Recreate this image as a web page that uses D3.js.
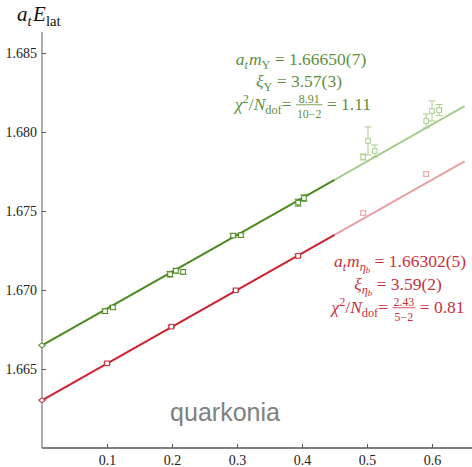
<!DOCTYPE html>
<html><head><meta charset="utf-8">
<script src="https://cdn.jsdelivr.net/npm/d3@7"></script>
<style>body{margin:0;background:#fff}svg{display:block}</style>
</head><body>
<svg id="c" width="472" height="467"></svg>
<script>
// ---- data ----
const xTicks = [0.1, 0.2, 0.3, 0.4, 0.5, 0.6];
const yTicks = [1.665, 1.670, 1.675, 1.680, 1.685];
const greenX = [0, 0.097, 0.109, 0.197, 0.206, 0.217, 0.294, 0.306, 0.394, 0.403, 0.494, 0.5015, 0.512, 0.591, 0.600, 0.611];
const greenY = [1.66650, 1.66866, 1.66890, 1.67100, 1.67122, 1.67115, 1.67345, 1.67347, 1.67553, 1.67582, 1.67842, 1.67943, 1.67880, 1.68070, 1.68133, 1.68139];
const greenErr = [0.00003, 0.00015, 0.00012, 0.00018, 0.00015, 0.00015, 0.00012, 0.00012, 0.00022, 0.00020, 0.00019, 0.00089, 0.00038, 0.00044, 0.00063, 0.00035];
const greenNFit = 10;
const redX = [0, 0.1, 0.199, 0.298, 0.394, 0.494, 0.591];
const redY = [1.66302, 1.66536, 1.66768, 1.66998, 1.67216, 1.67487, 1.67734];
const redErr = [0.00003, 0.00007, 0.00007, 0.00007, 0.00008, 0.00009, 0.00013];
const redNFit = 5;
const greenFit = {a: 1.66650, b: 0.02328};
const redFit = {a: 1.66302, b: 0.02327};
const fitBreak = 0.45, fitEnd = 0.65;

// ---- styles ----
const C = {g: "#4a8a1e", gl: "#a8cc8e", r: "#c8232e", rl: "#e9a1a6", gt: "#5f8f3e", rt: "#c9303b"};
const serif = "'Liberation Serif','Times New Roman',serif";

const svg = d3.select("#c");
const x = d3.scaleLinear().domain([0, 0.6615]).range([42, 472]);
const y = d3.scaleLinear().domain([1.660, 1.68633]).range([448, 32]);

// axes
const yAx = svg.append("g").attr("transform", "translate(42,0)")
  .call(d3.axisRight(y).tickValues(yTicks).tickSize(4).tickFormat(d3.format(".3f")));
yAx.select(".domain").attr("stroke", "#9a9a9a").attr("stroke-width", 1.6).attr("d", "M0,32V448");
yAx.selectAll(".tick line").attr("stroke", "#555");
yAx.selectAll(".tick text").attr("x", -5).attr("text-anchor", "end")
  .attr("font-family", serif).attr("font-size", 14).attr("fill", "#222").attr("dy", "0.35em");

const xAx = svg.append("g").attr("transform", "translate(0,448)")
  .call(d3.axisTop(x).tickValues(xTicks).tickSize(4).tickFormat(d3.format(".1f")));
xAx.select(".domain").attr("stroke", "#555").attr("stroke-width", 1.4).attr("d", "M42,0H472");
xAx.selectAll(".tick line").attr("stroke", "#555");
xAx.selectAll(".tick text").attr("y", 17).attr("dy", 0)
  .attr("font-family", serif).attr("font-size", 14).attr("fill", "#222");

// fit lines
function fitLine(f, dark, light) {
  const pts = t => [[x(t[0]), y(f.a + f.b * t[0])], [x(t[1]), y(f.a + f.b * t[1])]];
  svg.append("path").attr("d", d3.line()(pts([fitBreak, fitEnd]))).attr("stroke", light).attr("stroke-width", 2).attr("fill", "none");
  svg.append("path").attr("d", d3.line()(pts([0, fitBreak]))).attr("stroke", dark).attr("stroke-width", 2).attr("fill", "none");
}
fitLine(greenFit, C.g, C.gl);
fitLine(redFit, C.r, C.rl);

// points
function points(xs, ys, es, nfit, dark, light) {
  xs.forEach((xv, i) => {
    const col = i < nfit ? dark : light;
    const px = x(xv), py = y(ys[i]), p1 = y(ys[i] + es[i]), p2 = y(ys[i] - es[i]);
    const g = svg.append("g").attr("stroke", col).attr("fill", "none").attr("stroke-width", 1);
    g.append("line").attr("x1", px).attr("x2", px).attr("y1", p1).attr("y2", p2);
    g.append("line").attr("x1", px - 3.5).attr("x2", px + 3.5).attr("y1", p1).attr("y2", p1);
    g.append("line").attr("x1", px - 3.5).attr("x2", px + 3.5).attr("y1", p2).attr("y2", p2);
    if (xv === 0) g.append("circle").attr("cx", px).attr("cy", py).attr("r", 2.3).attr("fill", "#fff");
    else g.append("rect").attr("x", px - 2.3).attr("y", py - 2.3).attr("width", 4.6).attr("height", 4.6).attr("fill", "#fff");
  });
}
points(greenX, greenY, greenErr, greenNFit, C.g, C.gl);
points(redX, redY, redErr, redNFit, C.r, C.rl);

// math-like text builder
function mathLine(parts, cx, base, color, fs, anchor) {
  const g = svg.append("g").attr("fill", color).attr("font-family", serif);
  let cur = 0;
  parts.forEach(p => {
    if (p.frac) {
      const s = fs * 0.68;
      const n = g.append("text").attr("font-size", s).attr("y", base - fs * 0.42).text(p.frac[0]);
      const d = g.append("text").attr("font-size", s).attr("y", base + fs * 0.45).text(p.frac[1]);
      const wn = n.node().getComputedTextLength(), wd = d.node().getComputedTextLength();
      const w = Math.max(wn, wd) + 2;
      n.attr("x", cur + (w - wn) / 2); d.attr("x", cur + (w - wd) / 2);
      g.append("line").attr("x1", cur).attr("x2", cur + w).attr("y1", base - fs * 0.3).attr("y2", base - fs * 0.3)
        .attr("stroke", color).attr("stroke-width", 0.8);
      cur += w;
      return;
    }
    let s = fs, dy = 0;
    if (p.sub) { s = fs * 0.7; dy = fs * 0.22; }
    if (p.subsub) { s = fs * 0.5; dy = fs * 0.36; }
    if (p.sup) { s = fs * 0.7; dy = -fs * 0.4; }
    const t = g.append("text").attr("x", cur + (p.gap || 0)).attr("y", base + dy).attr("font-size", s)
      .attr("font-style", p.it ? "italic" : "normal").attr("xml:space", "preserve").text(p.t);
    cur += (p.gap || 0) + t.node().getComputedTextLength();
  });
  const off = anchor === "start" ? cx : cx - cur / 2;
  g.attr("transform", `translate(${off},0)`);
}

const fs = 17.5;
mathLine([{t: "a", it: 1}, {t: "t", it: 1, sub: 1}, {t: "m", it: 1, gap: 1}, {t: "Υ", sub: 1}, {t: " = 1.66650(7)"}], 301, 65, C.gt, fs);
mathLine([{t: "ξ", it: 1}, {t: "Υ", sub: 1}, {t: " = 3.57(3)"}], 299, 87, C.gt, fs);
mathLine([{t: "χ", it: 1}, {t: "2", sup: 1}, {t: "/"}, {t: "N", it: 1}, {t: "dof", sub: 1}, {t: "= "}, {frac: ["8.91", "10−2"]}, {t: " = 1.11"}], 303, 110, C.gt, fs);

mathLine([{t: "a", it: 1}, {t: "t", it: 1, sub: 1}, {t: "m", it: 1, gap: 1}, {t: "η", it: 1, sub: 1}, {t: "b", it: 1, subsub: 1}, {t: " = 1.66302(5)"}], 400, 267, C.rt, fs);
mathLine([{t: "ξ", it: 1}, {t: "η", it: 1, sub: 1}, {t: "b", it: 1, subsub: 1}, {t: " = 3.59(2)"}], 398, 290, C.rt, fs);
mathLine([{t: "χ", it: 1}, {t: "2", sup: 1}, {t: "/"}, {t: "N", it: 1}, {t: "dof", sub: 1}, {t: "= "}, {frac: ["2.43", "5−2"]}, {t: " = 0.81"}], 398, 313, C.rt, fs);

// y axis label
mathLine([{t: "a", it: 1}, {t: "t", it: 1, sub: 1}, {t: "E", it: 1, gap: 1.5}, {t: "lat", sub: 1}], 17, 21, "#111", 21, "start");

// quarkonia
svg.append("text").attr("x", 225).attr("y", 421).attr("text-anchor", "middle")
  .attr("font-family", "'Liberation Sans',Arial,sans-serif").attr("font-size", 25).attr("fill", "#808080").text("quarkonia");
</script>
</body></html>
